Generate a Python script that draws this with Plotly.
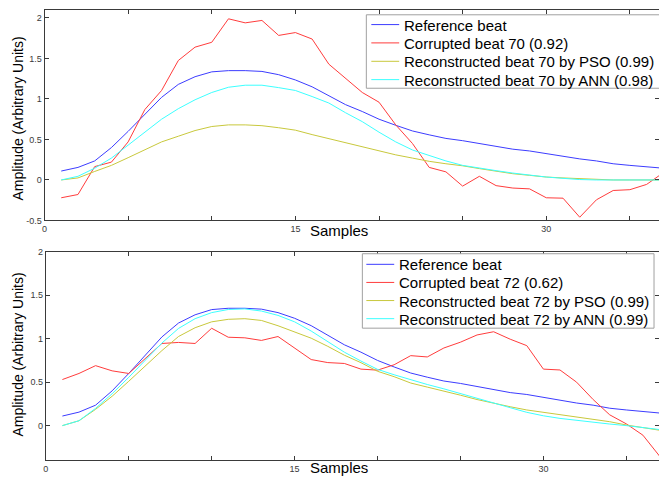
import plotly.graph_objects as go

samples = list(range(1, 38))

reference_beat = [0.11, 0.155, 0.235, 0.40, 0.60, 0.81, 1.02, 1.18, 1.275, 1.335,
                  1.35, 1.35, 1.34, 1.30, 1.235, 1.15, 1.035, 0.93, 0.845, 0.75,
                  0.675, 0.605, 0.557, 0.513, 0.485, 0.45, 0.418, 0.38, 0.358, 0.325,
                  0.29, 0.26, 0.235, 0.20, 0.18, 0.165, 0.145]

corrupted_70 = [-0.22, -0.18, 0.165, 0.22, 0.47, 0.87, 1.105, 1.475, 1.64, 1.70,
                1.99, 1.94, 1.97, 1.785, 1.82, 1.74, 1.43, 1.26, 1.08, 0.96,
                0.68, 0.45, 0.155, 0.10, -0.076, 0.045, -0.07, -0.10, -0.11, -0.22,
                -0.225, -0.46, -0.245, -0.13, -0.12, -0.055, 0.09]
pso_70 = [0.0, 0.025, 0.105, 0.18, 0.275, 0.37, 0.47, 0.54, 0.61, 0.66,
          0.68, 0.68, 0.67, 0.645, 0.615, 0.56, 0.51, 0.46, 0.41, 0.355,
          0.31, 0.27, 0.23, 0.2, 0.175, 0.14, 0.105, 0.077, 0.057, 0.036,
          0.025, 0.016, 0.005, 0.0, 0.0, 0.0, 0.0]
ann_70 = [0.0, 0.045, 0.145, 0.27, 0.43, 0.59, 0.75, 0.88, 0.99, 1.08,
          1.145, 1.17, 1.17, 1.14, 1.105, 1.03, 0.95, 0.83, 0.72, 0.59,
          0.47, 0.37, 0.305, 0.235, 0.18, 0.145, 0.115, 0.085, 0.057, 0.036,
          0.02, 0.005, 0.0, 0.0, 0.0, 0.0, 0.0]

corrupted_72 = [0.53, 0.60, 0.69, 0.63, 0.60, 0.77, 0.945, 0.957, 0.945, 1.12,
                1.017, 1.01, 0.98, 1.025, 0.89, 0.76, 0.725, 0.715, 0.65, 0.638,
                0.70, 0.805, 0.79, 0.893, 0.96, 1.043, 1.08, 0.994, 0.92, 0.65,
                0.64, 0.50, 0.30, 0.124, 0.02, -0.11, -0.35]
pso_72 = [0.0, 0.056, 0.187, 0.338, 0.51, 0.687, 0.863, 1.025, 1.126, 1.194,
          1.223, 1.23, 1.21, 1.149, 1.081, 1.006, 0.912, 0.81, 0.724, 0.625,
          0.563, 0.49, 0.443, 0.40, 0.35, 0.30, 0.255, 0.217, 0.18, 0.153,
          0.124, 0.097, 0.074, 0.045, 0.007, -0.027, -0.053]
ann_72 = [0.0, 0.056, 0.198, 0.367, 0.555, 0.755, 0.95, 1.118, 1.23, 1.30,
          1.336, 1.343, 1.318, 1.268, 1.194, 1.088, 0.968, 0.845, 0.743, 0.647,
          0.585, 0.525, 0.473, 0.423, 0.367, 0.31, 0.255, 0.206, 0.153, 0.113,
          0.083, 0.06, 0.037, 0.018, 0.0, -0.02, -0.045]

names_top = ["Reference beat", "Corrupted beat 70 (0.92)",
             "Reconstructed beat 70 by PSO (0.99)", "Reconstructed beat 70 by ANN (0.98)"]
names_bot = ["Reference beat", "Corrupted beat 72 (0.62)",
             "Reconstructed beat 72 by PSO (0.99)", "Reconstructed beat 72 by ANN (0.99)"]

x_tickvals = [0, 5, 10, 15, 20, 25, 30, 35]
x_ticktext = ["0", "", "", "15", "", "", "30", ""]
y_top_tickvals = [-0.5, 0, 0.5, 1, 1.5, 2]
y_top_ticktext = ["-0.5", "0", "0.5", "1", "1.5", "2"]
y_bot_tickvals = [0, 0.5, 1, 1.5, 2]
y_bot_ticktext = ["0", "0.5", "1", "1.5", "2"]

colors = ["#3c3cff", "#ff3c3c", "#c8c83c", "#3cffff"]
FONT = "Liberation Sans, Arial, sans-serif"
W, H = 659, 483

fig = go.Figure()
for series, name, c in zip([reference_beat, corrupted_70, pso_70, ann_70], names_top, colors):
    fig.add_trace(go.Scatter(x=samples, y=series, name=name, mode="lines",
                             line=dict(color=c, width=1), xaxis="x", yaxis="y",
                             showlegend=False))
for series, name, c in zip([reference_beat, corrupted_72, pso_72, ann_72], names_bot, colors):
    fig.add_trace(go.Scatter(x=samples, y=series, name=name, mode="lines",
                             line=dict(color=c, width=1), xaxis="x2", yaxis="y2",
                             showlegend=False))
# invisible helpers so the right-hand tick axes are drawn
fig.add_trace(go.Scatter(x=[samples[0]], y=[reference_beat[0]], mode="lines",
                         showlegend=False, hoverinfo="skip", xaxis="x", yaxis="y3",
                         line=dict(width=0)))
fig.add_trace(go.Scatter(x=[samples[0]], y=[reference_beat[0]], mode="lines",
                         showlegend=False, hoverinfo="skip", xaxis="x2", yaxis="y4",
                         line=dict(width=0)))

axcol = "#3a3a3a"
tickfont = dict(size=9, color=axcol, family=FONT)
common_x = dict(tickvals=x_tickvals, ticktext=x_ticktext, ticks="inside", ticklen=4,
                tickcolor=axcol, showline=True, linecolor=axcol, linewidth=1,
                mirror="ticks", showgrid=False, zeroline=False, tickfont=tickfont)
common_y = dict(ticks="inside", ticklen=4, tickcolor=axcol, showline=True,
                linecolor=axcol, linewidth=1, mirror=False, showgrid=False,
                zeroline=False, tickfont=tickfont)

top_dom = [1 - 220 / H, 1 - 5 / H]
bot_dom = [1 - 465 / H, 1 - 252 / H]

fig.update_layout(
    width=W, height=H, margin=dict(l=0, r=0, t=0, b=0),
    paper_bgcolor="white", plot_bgcolor="white",
    font=dict(family=FONT),
    showlegend=False,
    xaxis=dict(domain=[41.7 / W, 1], range=[0, 36.74], anchor="y", **common_x),
    yaxis=dict(domain=top_dom, range=[-0.5, 2.1], anchor="x",
               tickvals=y_top_tickvals, ticktext=y_top_ticktext, **common_y),
    yaxis3=dict(overlaying="y", side="right", anchor="x", range=[-0.5, 2.1],
                tickvals=y_top_tickvals, showticklabels=False, ticks="inside",
                ticklen=4, tickcolor=axcol, showline=False, showgrid=False,
                zeroline=False),
    xaxis2=dict(domain=[43 / W, 1], range=[0, 36.97], anchor="y2", **common_x),
    yaxis2=dict(domain=bot_dom, range=[-0.4, 2.0], anchor="x2",
                tickvals=y_bot_tickvals, ticktext=y_bot_ticktext, **common_y),
    yaxis4=dict(overlaying="y2", side="right", anchor="x2", range=[-0.4, 2.0],
                tickvals=y_bot_tickvals, showticklabels=False, ticks="inside",
                ticklen=4, tickcolor=axcol, showline=False, showgrid=False,
                zeroline=False),
)

# Manual legends (box, line samples, labels) in pixel-derived paper coordinates
def px_x(p):
    return p / W

def px_y(p):
    return 1 - p / H

legend_specs = [
    (365, 664, 10, 85, 370, 398, 402, [20, 38.7, 57.5, 76.2], names_top),
    (361, 654, 254, 330, 365, 393, 397, [264.8, 283.3, 301.8, 320.3], names_bot),
]
shapes = []
leg_font = dict(size=15, family=FONT, color="black")
for bx0, bx1, by0, by1, lx0, lx1, tx, rows, names in legend_specs:
    shapes.append(dict(type="rect", xref="paper", yref="paper",
                       x0=px_x(bx0), x1=px_x(bx1), y0=px_y(by1), y1=px_y(by0),
                       line=dict(color="#a0a0a0", width=1), fillcolor="white",
                       layer="above"))
    for ry, name, c in zip(rows, names, colors):
        shapes.append(dict(type="line", xref="paper", yref="paper",
                           x0=px_x(lx0), x1=px_x(lx1), y0=px_y(ry), y1=px_y(ry),
                           line=dict(color=c, width=1), layer="above"))
        fig.add_annotation(text=name, xref="paper", yref="paper", x=px_x(tx),
                           y=px_y(ry + 0.5), xanchor="left", yanchor="middle",
                           showarrow=False, font=leg_font, borderpad=0)
fig.update_layout(shapes=shapes)

ann_font = dict(size=15, family=FONT, color="black")
fig.add_annotation(text="Samples", xref="paper", yref="paper", x=px_x(337.5), y=px_y(230),
                   xanchor="center", yanchor="middle", showarrow=False, font=ann_font,
                   borderpad=0)
fig.add_annotation(text="Samples", xref="paper", yref="paper", x=px_x(337.5), y=px_y(472),
                   xanchor="center", yanchor="middle", showarrow=False, font=ann_font,
                   borderpad=0)
fig.add_annotation(text="Amplitude (Arbitrary Units)", xref="paper", yref="paper",
                   x=px_x(15), y=px_y(116), textangle=-90, xanchor="center",
                   yanchor="middle", showarrow=False, borderpad=0,
                   font=dict(size=14, family=FONT, color="black"))
fig.add_annotation(text="Amplitude (Arbitrary Units)", xref="paper", yref="paper",
                   x=px_x(15), y=px_y(357), textangle=-90, xanchor="center",
                   yanchor="middle", showarrow=False, borderpad=0,
                   font=dict(size=14, family=FONT, color="black"))

fig.write_html("out.html", config={"displayModeBar": False},
               post_script="document.body.style.margin='0';")
